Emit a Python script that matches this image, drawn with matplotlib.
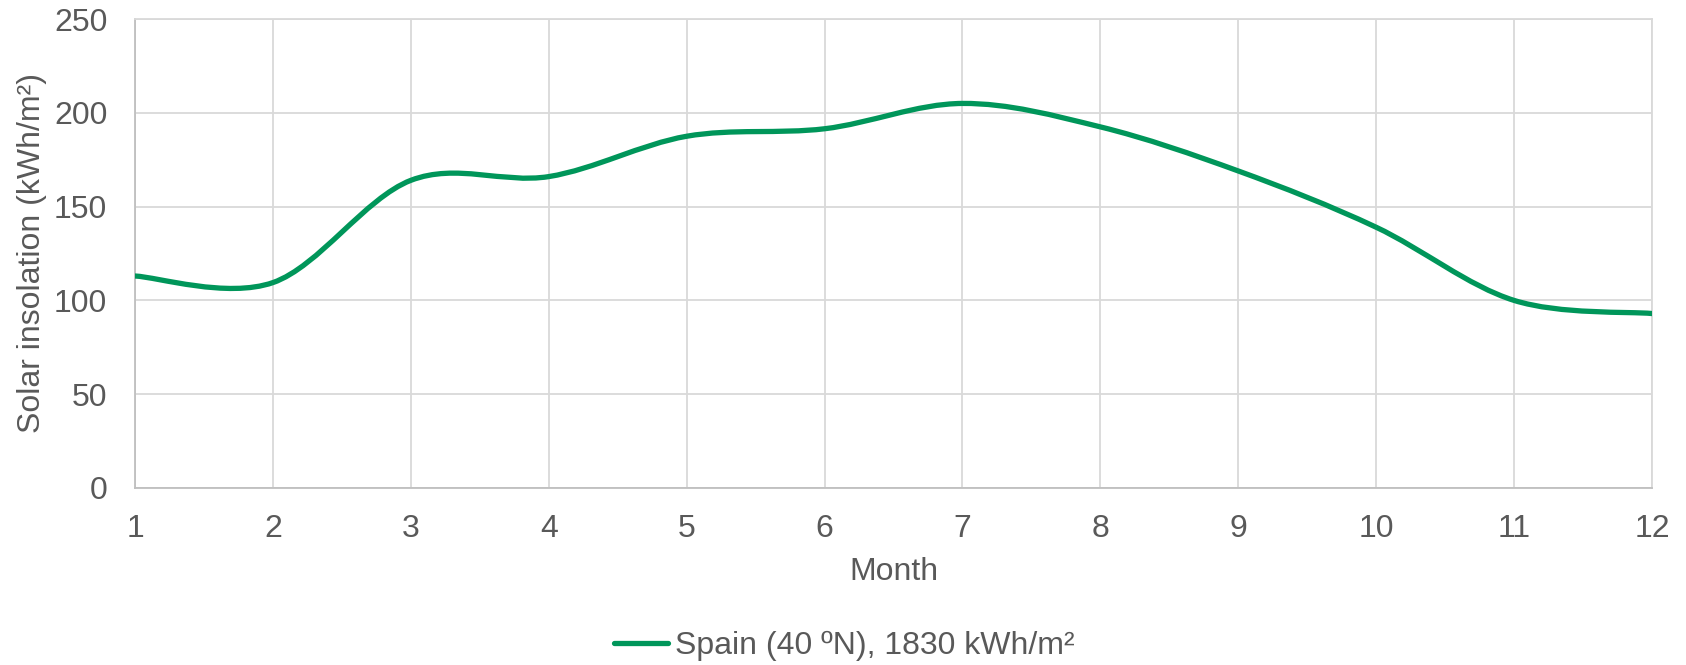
import numpy as np
import matplotlib
matplotlib.use('Agg')
import matplotlib.pyplot as plt
from matplotlib.path import Path
from matplotlib.patches import PathPatch
from matplotlib.lines import Line2D

# Monthly solar insolation, Spain (40 ºN)
months = [1, 2, 3, 4, 5, 6, 7, 8, 9, 10, 11, 12]
insolation = [113, 109.5, 164, 166, 187.5, 191.5, 205, 192.5, 169, 139, 100, 93]
series_label = 'Spain (40 ºN), 1830 kWh/m²'

green = '#00965A'
text_col = '#595959'
grid_col = '#D9D9D9'
fs = 23

plt.rcParams['font.family'] = ['Liberation Sans', 'DejaVu Sans']

fig = plt.figure(figsize=(16.86, 6.65), dpi=100)
ax = fig.add_axes([0.0801, 0.2662, 0.8997, 0.7052])


def smooth_path(x, y):
    # Excel style smoothed line: Catmull-Rom segments as cubic Bezier curves
    pts = np.column_stack([x, y]).astype(float)
    ext = np.vstack([pts[0], pts, pts[-1]])
    verts = [pts[0]]
    codes = [Path.MOVETO]
    for i in range(len(pts) - 1):
        p0, p1, p2, p3 = ext[i], ext[i + 1], ext[i + 2], ext[i + 3]
        verts += [p1 + (p2 - p0) / 6, p2 - (p3 - p1) / 6, p2]
        codes += [Path.CURVE4] * 3
    return Path(verts, codes)


patch = PathPatch(smooth_path(months, insolation), facecolor='none',
                  edgecolor=green, linewidth=3.8, capstyle='round', zorder=3)
ax.add_patch(patch)

ax.set_xlim(1, 12)
ax.set_ylim(0, 250)
ax.set_xticks(months)
ax.set_yticks(range(0, 251, 50))
ax.grid(True, color=grid_col, linewidth=1.3)
ax.set_axisbelow(True)
for s in ax.spines.values():
    s.set_color(grid_col)
    s.set_linewidth(1.3)
ax.spines['bottom'].set_color('#BFBFBF')
ax.spines['left'].set_color('#BFBFBF')

ax.tick_params(axis='both', length=0, labelsize=fs, colors=text_col)
ax.tick_params(axis='y', pad=20)
ax.tick_params(axis='x', pad=19)

ax.set_xlabel('Month', fontsize=fs, color=text_col, labelpad=9)
ax.set_ylabel('Solar insolation (kWh/m²)', fontsize=fs, color=text_col, labelpad=5)

handle = Line2D([], [], color=green, linewidth=3.8, solid_capstyle='round')
fig.legend([handle], [series_label], loc='center', bbox_to_anchor=(0.5006, 0.029),
           frameon=False, fontsize=fs, labelcolor=text_col,
           handlelength=1.7, handletextpad=0.2)

fig.savefig('out.png', dpi=100)
